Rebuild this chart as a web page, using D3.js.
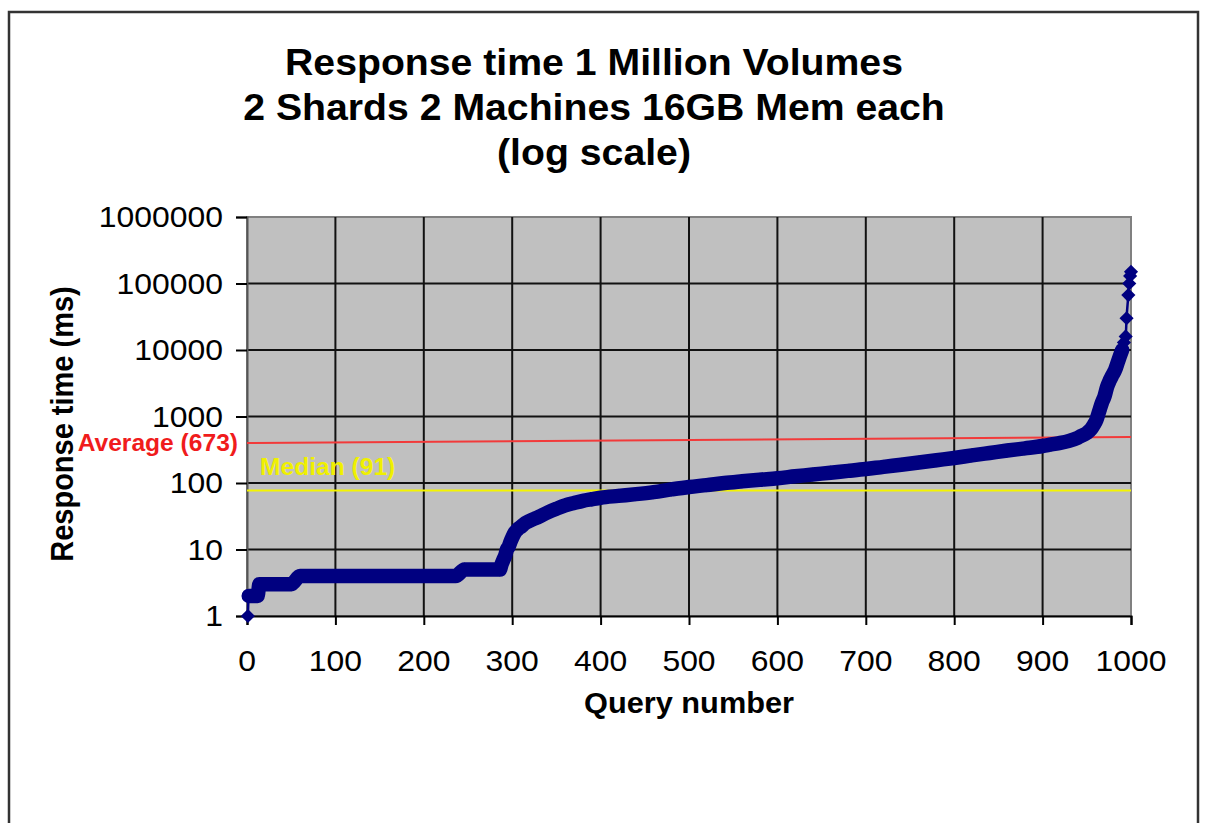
<!DOCTYPE html>
<html>
<head>
<meta charset="utf-8">
<script src="https://cdnjs.cloudflare.com/ajax/libs/d3/7.8.5/d3.min.js"></script>
<style>
  body { margin: 0; background: #fff; }
  svg { display: block; font-family: "Liberation Sans", Arial, sans-serif; }
</style>
</head>
<body>
<div id="chart"></div>
<script>
// ---- data ----
const titleLines = ["Response time 1 Million Volumes", "2 Shards 2 Machines 16GB Mem each", "(log scale)"];
const xTicks = [0, 100, 200, 300, 400, 500, 600, 700, 800, 900, 1000];
const yTicks = [1, 10, 100, 1000, 10000, 100000, 1000000];

// sorted response times (query number -> ms)
const queryNums = [1, 2, 12, 14, 50, 60, 236, 246, 286, 288, 290, 292, 294, 296, 298,
  300, 303, 306, 310, 315, 320, 325, 330, 340, 350, 360, 370, 380, 390,
  400, 420, 440, 460, 480, 500, 520, 540, 560, 580, 600, 620, 640, 660, 680,
  700, 720, 740, 760, 780, 800, 820, 840, 860, 880, 900, 910, 920, 930, 940,
  945, 950, 955, 958, 961, 964, 967, 970, 973, 976, 979, 982, 985, 988,
  990, 992, 994, 995, 997, 998, 999, 1000];
const responseMs = [1, 2, 2, 3, 3, 4, 4, 5, 5, 6, 7, 8, 10, 11, 13,
  15, 18, 20, 22, 25, 27, 29, 31, 36, 41, 46, 50, 54, 57,
  60, 64, 68, 73, 80, 87, 93, 100, 106, 112, 118, 126, 134, 143, 152,
  162, 175, 188, 203, 220, 238, 260, 283, 308, 332, 360, 380, 400, 430, 480,
  520, 565, 650, 750, 900, 1200, 1600, 2000, 2800, 3500, 4200, 5000, 6500, 8500,
  10000, 13000, 16000, 30000, 67000, 100000, 130000, 150000];

const averageLabel = "Average (673)";
const averageQueries = [0, 1000];
const averageMs = [400, 492];
const medianLabel = "Median (91)";
const medianQueries = [0, 1000];
const medianMs = [77, 77];

// ---- layout ----
const W = 1205, H = 823;
const plot = { left: 247, right: 1131, top: 217, bottom: 616 };

const svg = d3.select("#chart").append("svg")
  .attr("width", W).attr("height", H);

// chart frame
svg.append("rect")
  .attr("x", 9).attr("y", 12)
  .attr("width", 1189).attr("height", 840)
  .attr("fill", "#fff").attr("stroke", "#333").attr("stroke-width", 2.5);

const x = d3.scaleLinear().domain([0, 1000]).range([plot.left, plot.right]);
const y = d3.scaleLog().domain([1, 1000000]).range([plot.bottom, plot.top]);

// stretched text helper (the source picture is a bit wider than tall)
function stext(parent, px, py, txt, sx) {
  return parent.append("text")
    .attr("transform", `translate(${px},${py}) scale(${sx},1)`)
    .text(txt);
}

// title
const tg = svg.append("g").attr("font-weight", "bold").attr("font-size", 37)
  .attr("text-anchor", "middle").attr("fill", "#000");
titleLines.forEach((t, i) => stext(tg, 594, 75 + i * 45, t, 1.06));

// plot background
svg.append("rect")
  .attr("x", plot.left).attr("y", plot.top)
  .attr("width", plot.right - plot.left).attr("height", plot.bottom - plot.top)
  .attr("fill", "#c0c0c0").attr("stroke", "#808080").attr("stroke-width", 2);

// gridlines
const grid = svg.append("g").attr("stroke", "#111").attr("stroke-width", 2);
grid.selectAll(".vg").data(xTicks.slice(1, -1)).join("line")
  .attr("x1", d => x(d)).attr("x2", d => x(d))
  .attr("y1", plot.top).attr("y2", plot.bottom);
grid.selectAll(".hg").data(yTicks.slice(1, -1)).join("line")
  .attr("x1", plot.left).attr("x2", plot.right)
  .attr("y1", d => y(d)).attr("y2", d => y(d));

// axes
const xAxis = d3.axisBottom(x).tickValues(xTicks).tickSize(9).tickFormat("");
const gx = svg.append("g").attr("transform", `translate(0,${plot.bottom})`).call(xAxis);
gx.select(".domain").attr("stroke", "#000").attr("stroke-width", 2);
gx.selectAll(".tick line").attr("stroke", "#000").attr("stroke-width", 2);

const yAxis = d3.axisLeft(y).tickValues(yTicks).tickSize(11).tickFormat("");
const gy = svg.append("g").attr("transform", `translate(${plot.left},0)`).call(yAxis);
gy.select(".domain").attr("stroke", "#555").attr("stroke-width", 2);
gy.selectAll(".tick line").attr("stroke", "#000").attr("stroke-width", 2);

// tick labels
const tl = svg.append("g").attr("font-size", 29).attr("fill", "#000");
xTicks.forEach(d => stext(tl, x(d), 671, d, 1.1).attr("text-anchor", "middle"));
yTicks.forEach(d => stext(tl, 223, y(d) + 10, d, 1.1).attr("text-anchor", "end"));

// axis titles
const at = svg.append("g").attr("font-weight", "bold").attr("font-size", 29)
  .attr("text-anchor", "middle").attr("fill", "#000");
stext(at, 689, 713, "Query number", 1.06);
at.append("text")
  .attr("transform", "translate(73,424) rotate(-90) scale(1,1.06)")
  .text("Response time (ms)");

// average / median lines
const pts = (qs, vs) => qs.map((q, i) => [q, vs[i]]);
const straight = d3.line().x(d => x(d[0])).y(d => y(d[1]));
svg.append("path").attr("d", straight(pts(averageQueries, averageMs)))
  .attr("fill", "none").attr("stroke", "#f23a3a").attr("stroke-width", 2);
svg.append("path").attr("d", straight(pts(medianQueries, medianMs)))
  .attr("fill", "none").attr("stroke", "#f4f400").attr("stroke-width", 2);

const lbl = svg.append("g").attr("font-weight", "bold").attr("font-size", 23);
stext(lbl, 238, y(averageMs[0]) + 8, averageLabel, 1.07)
  .attr("text-anchor", "end").attr("fill", "#f01c1c");
stext(lbl, 260, y(medianMs[0]) - 16, medianLabel, 1.07)
  .attr("text-anchor", "start").attr("fill", "#f0f000");

// response-time series: dense diamonds form a thick band
const series = pts(queryNums, responseMs);
const curve = d3.line().x(d => x(d[0])).y(d => y(d[1])).curve(d3.curveMonotoneX);
const navy = "#000080";
svg.append("path").attr("d", curve(series.filter(d => d[0] >= 2 && d[0] <= 990)))
  .attr("fill", "none").attr("stroke", navy).attr("stroke-width", 14.5)
  .attr("stroke-linejoin", "round").attr("stroke-linecap", "round");
svg.append("path").attr("d", curve(series))
  .attr("fill", "none").attr("stroke", navy).attr("stroke-width", 2.5);
const diamond = d3.symbol().type(d3.symbolSquare).size(100);
svg.append("g").selectAll("path").data(series).join("path")
  .attr("d", diamond)
  .attr("transform", d => `translate(${x(d[0])},${y(d[1])}) rotate(45)`)
  .attr("fill", navy);
</script>
</body>
</html>
